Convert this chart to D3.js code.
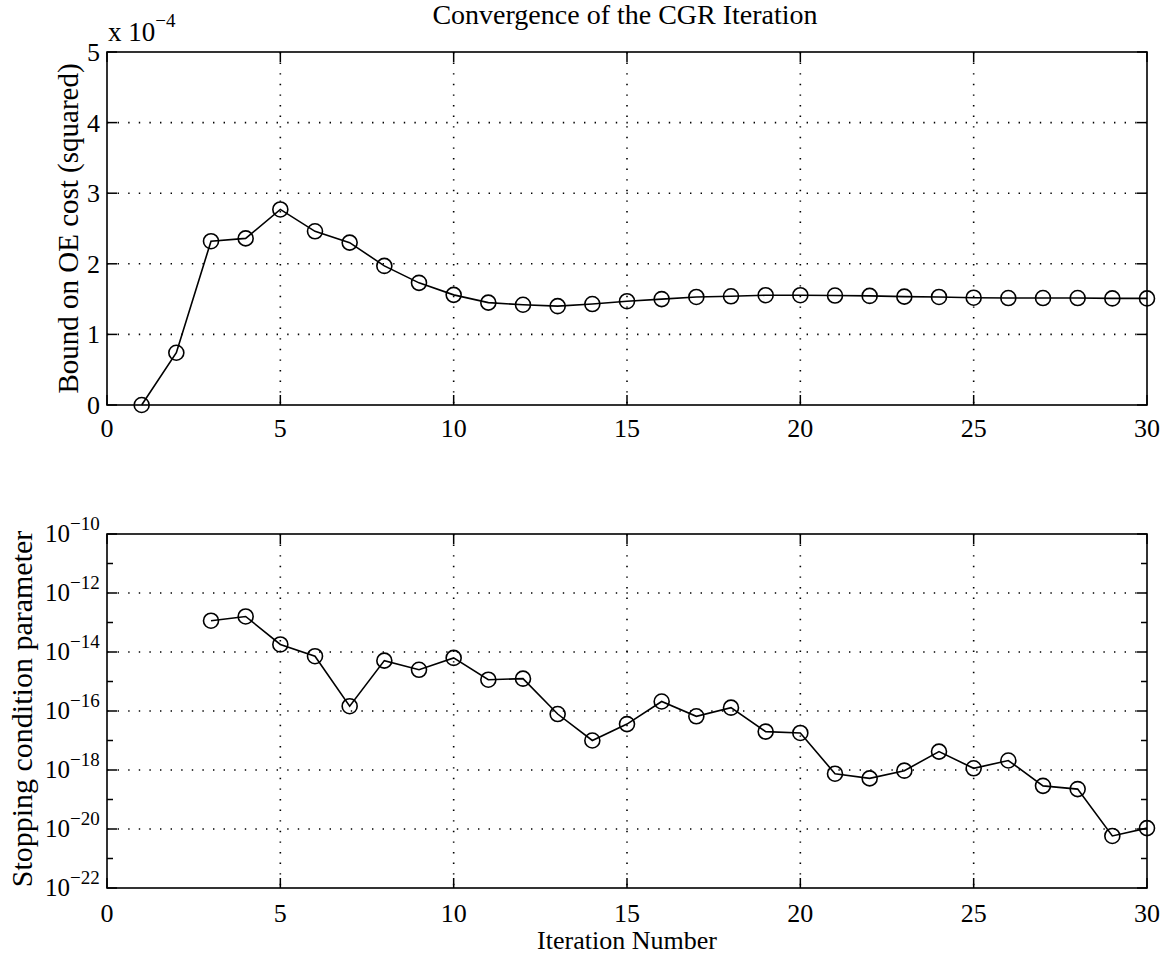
<!DOCTYPE html>
<html>
<head>
<meta charset="utf-8">
<script src="https://cdn.jsdelivr.net/npm/d3@7"></script>
<style>
  html, body { margin: 0; padding: 0; background: #fff; }
  svg { display: block; }
  text { font-family: "Liberation Serif", "Times New Roman", serif; fill: #000; }
</style>
</head>
<body>
<svg id="chart" width="1166" height="960"></svg>
<script>
// Iteration index shared by both panels
const iterations = d3.range(1, 31);

// Upper panel: bound on OE cost (squared), in units of 1e-4
const boundValues = [
  0.00, 0.74, 2.32, 2.36, 2.77, 2.46, 2.30, 1.97, 1.73, 1.56,
  1.45, 1.42, 1.40, 1.43, 1.47, 1.50, 1.53, 1.54, 1.555, 1.555,
  1.55, 1.545, 1.535, 1.53, 1.52, 1.515, 1.515, 1.515, 1.51, 1.51
];

// Lower panel: stopping condition parameter (starts at iteration 3)
const stopIterations = d3.range(3, 31);
const stopValues = [
  1.15e-13, 1.6e-13, 1.8e-14, 7.2e-15, 1.45e-16, 5.1e-15, 2.5e-15, 6.3e-15, 1.15e-15, 1.25e-15,
  7.9e-17, 1.0e-17, 3.6e-17, 2.1e-16, 6.6e-17, 1.3e-16, 2.0e-17, 1.8e-17, 7.5e-19, 5.2e-19,
  9.5e-19, 4.2e-18, 1.14e-18, 2.1e-18, 2.9e-19, 2.25e-19, 5.8e-21, 1.07e-20
];

// Tick values
const xTicks = [0, 5, 10, 15, 20, 25, 30];
const yTicksTop = [0, 1, 2, 3, 4, 5];
const logMajorExp = [-10, -12, -14, -16, -18, -20, -22];
const logMinorExp = [-11, -13, -15, -17, -19, -21];

// Text
const titleText = "Convergence of the CGR Iteration";
const topYLabel = "Bound on OE cost (squared)";
const bottomYLabel = "Stopping condition parameter";
const xLabelText = "Iteration Number";

const svg = d3.select("#chart");

const L = 107, R = 1147;
const top1 = { t: 52, b: 405 };
const top2 = { t: 534, b: 888 };
const majorLen = 10, minorLen = 6;
const tickFont = 26;

const x = d3.scaleLinear().domain([0, 30]).range([L, R]);
const yTop = d3.scaleLinear().domain([0, 5]).range([top1.b, top1.t]);
const yBot = d3.scaleLog().domain([1e-22, 1e-10]).range([top2.b, top2.t]);

function dottedGrid(g, isH, positions, t, b) {
  positions.forEach(p => {
    const line = g.append("line")
      .attr("stroke", "#000")
      .attr("stroke-width", 1.6)
      .attr("stroke-dasharray", "1.4 9.2")
      .attr("stroke-linecap", "butt");
    if (isH) line.attr("x1", L).attr("x2", R).attr("y1", p).attr("y2", p);
    else line.attr("x1", p).attr("x2", p).attr("y1", t).attr("y2", b);
  });
}

function framedTicks(g, t, b, yPositions) {
  // x ticks on bottom and top edges, pointing inward
  xTicks.forEach(v => {
    const px = x(v);
    g.append("line").attr("x1", px).attr("x2", px).attr("y1", b).attr("y2", b - majorLen)
      .attr("stroke", "#000").attr("stroke-width", 1.5);
    g.append("line").attr("x1", px).attr("x2", px).attr("y1", t).attr("y2", t + majorLen)
      .attr("stroke", "#000").attr("stroke-width", 1.5);
  });
  yPositions.forEach(([py, len]) => {
    g.append("line").attr("x1", L).attr("x2", L + len).attr("y1", py).attr("y2", py)
      .attr("stroke", "#000").attr("stroke-width", 1.5);
    g.append("line").attr("x1", R).attr("x2", R - len).attr("y1", py).attr("y2", py)
      .attr("stroke", "#000").attr("stroke-width", 1.5);
  });
  g.append("rect").attr("x", L).attr("y", t).attr("width", R - L).attr("height", b - t)
    .attr("fill", "none").attr("stroke", "#000").attr("stroke-width", 1.6);
}

function xTickLabels(g, baseline) {
  g.selectAll(null).data(xTicks).join("text")
    .attr("x", d => x(d)).attr("y", baseline)
    .attr("text-anchor", "middle").attr("font-size", tickFont)
    .text(d => d);
}

// ---------- Upper panel ----------
const g1 = svg.append("g");
dottedGrid(g1, false, xTicks.slice(1, -1).map(x), top1.t, top1.b);
dottedGrid(g1, true, yTicksTop.slice(1, -1).map(yTop), top1.t, top1.b);

const line1 = d3.line().x((d, i) => x(iterations[i])).y(d => yTop(d));
g1.append("path").datum(boundValues).attr("d", line1)
  .attr("fill", "none").attr("stroke", "#000").attr("stroke-width", 1.6);
g1.selectAll("circle").data(boundValues).join("circle")
  .attr("cx", (d, i) => x(iterations[i])).attr("cy", d => yTop(d)).attr("r", 7.5)
  .attr("fill", "none").attr("stroke", "#000").attr("stroke-width", 1.6);

framedTicks(g1, top1.t, top1.b, yTicksTop.map(v => [yTop(v), majorLen]));
xTickLabels(g1, 437);

g1.selectAll(".ytl").data(yTicksTop).join("text")
  .attr("x", L - 7).attr("y", d => yTop(d) + 9)
  .attr("text-anchor", "end").attr("font-size", tickFont)
  .text(d => d);

// exponent multiplier above the axis
const mult = g1.append("text").attr("x", L + 1).attr("y", 41).attr("font-size", 27);
mult.append("tspan").text("x 10");
mult.append("tspan").attr("dy", -14).attr("font-size", 19).text("\u22124");

svg.append("text").attr("x", (L + R) / 2 - 2).attr("y", 24)
  .attr("text-anchor", "middle").attr("font-size", 28).text(titleText);

svg.append("text")
  .attr("transform", `translate(78, ${(top1.t + top1.b) / 2}) rotate(-90)`)
  .attr("text-anchor", "middle").attr("font-size", 29).text(topYLabel);

// ---------- Lower panel ----------
const g2 = svg.append("g");
dottedGrid(g2, false, xTicks.slice(1, -1).map(x), top2.t, top2.b);
dottedGrid(g2, true, logMajorExp.slice(1, -1).map(e => yBot(Math.pow(10, e))), top2.t, top2.b);

const line2 = d3.line().x((d, i) => x(stopIterations[i])).y(d => yBot(d));
g2.append("path").datum(stopValues).attr("d", line2)
  .attr("fill", "none").attr("stroke", "#000").attr("stroke-width", 1.6);
g2.selectAll("circle").data(stopValues).join("circle")
  .attr("cx", (d, i) => x(stopIterations[i])).attr("cy", d => yBot(d)).attr("r", 7.5)
  .attr("fill", "none").attr("stroke", "#000").attr("stroke-width", 1.6);

framedTicks(g2, top2.t, top2.b,
  logMajorExp.map(e => [yBot(Math.pow(10, e)), majorLen])
    .concat(logMinorExp.map(e => [yBot(Math.pow(10, e)), minorLen])));
xTickLabels(g2, 922);

logMajorExp.forEach(e => {
  const py = yBot(Math.pow(10, e));
  const t = g2.append("text").attr("x", 45).attr("y", py + 8).attr("font-size", 25);
  t.append("tspan").text("10");
  t.append("tspan").attr("dy", -12).attr("font-size", 19).text("\u2212" + Math.abs(e));
});

svg.append("text")
  .attr("transform", `translate(32, ${(top2.t + top2.b) / 2 - 2}) rotate(-90)`)
  .attr("text-anchor", "middle").attr("font-size", 30).text(bottomYLabel);

svg.append("text").attr("x", (L + R) / 2).attr("y", 949)
  .attr("text-anchor", "middle").attr("font-size", 26).text(xLabelText);
</script>
</body>
</html>
